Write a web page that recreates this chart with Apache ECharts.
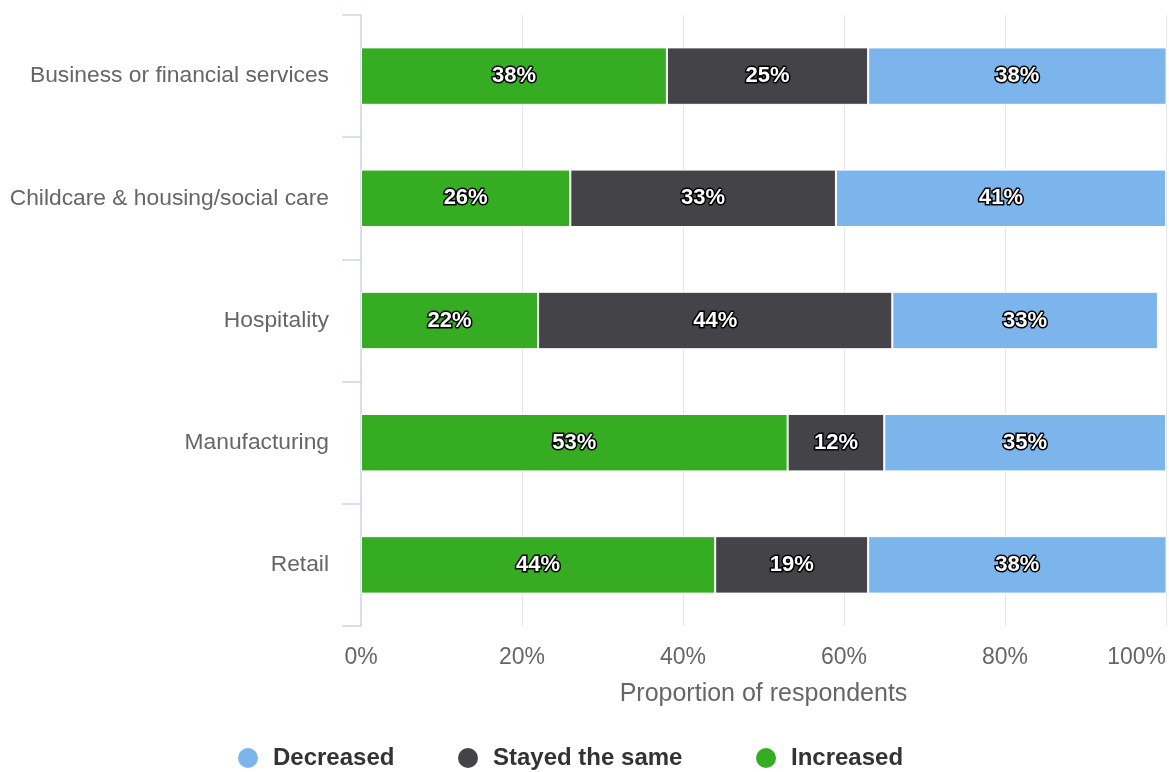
<!DOCTYPE html>
<html>
<head>
<meta charset="utf-8">
<style>
  html, body { margin: 0; padding: 0; background: #fff; }
  #chart { width: 1169px; height: 772px; }
</style>
<script src="https://cdn.jsdelivr.net/npm/echarts@6/dist/echarts.min.js"></script>
</head>
<body>
<div id="chart"></div>
<script>
// Sectors, top to bottom
const categories = [
  'Business or financial services',
  'Childcare & housing/social care',
  'Hospitality',
  'Manufacturing',
  'Retail'
];
// Share of respondents (%) per response
const increased = [38, 26, 22, 53, 44];
const stayedSame = [25, 33, 44, 12, 19];
const decreased = [38, 41, 33, 35, 38];
const xTicks = [0, 20, 40, 60, 80, 100];

const FONT = '"Liberation Sans", Arial, Helvetica, sans-serif';

const labelStyle = {
  show: true,
  position: 'inside',
  formatter: p => p.value + '%',
  color: '#fff',
  fontFamily: FONT,
  fontWeight: 'bold',
  fontSize: 22,
  textBorderColor: '#000',
  textBorderWidth: 3
};

function makeSeries(name, data, color) {
  return {
    name: name,
    type: 'bar',
    stack: 'total',
    data: data,
    barWidth: '47%',
    itemStyle: { color: color, borderColor: '#fff', borderWidth: 1 },
    label: labelStyle,
    emphasis: { disabled: true }
  };
}

// One legend entry per component so each can sit at its own spot
function legendItem(name, left) {
  return {
    data: [name],
    left: left,
    top: 746,
    padding: 0,
    icon: 'circle',
    itemWidth: 22,
    itemHeight: 22,
    selectedMode: false,
    textStyle: {
      color: '#333',
      fontFamily: FONT,
      fontWeight: 'bold',
      fontSize: 24,
      padding: [0, 0, 0, 9]
    }
  };
}

const chart = echarts.init(document.getElementById('chart'), null, { renderer: 'canvas' });
chart.setOption({
  animation: false,
  textStyle: { fontFamily: FONT },
  grid: { left: 361, right: 3, top: 15, bottom: 146, containLabel: false },
  legend: [
    legendItem('Decreased', 236),
    legendItem('Stayed the same', 456),
    legendItem('Increased', 754)
  ],
  xAxis: {
    type: 'value',
    min: xTicks[0],
    max: xTicks[xTicks.length - 1],
    interval: xTicks[1] - xTicks[0],
    name: 'Proportion of respondents',
    nameLocation: 'middle',
    nameGap: 56,
    nameTextStyle: { color: '#666', fontSize: 25, fontFamily: FONT },
    axisLine: { show: false },
    axisTick: { show: false },
    axisLabel: {
      color: '#666',
      fontSize: 23,
      fontFamily: FONT,
      margin: 20,
      alignMaxLabel: 'right',
      formatter: v => v + '%'
    },
    splitLine: { show: true, lineStyle: { color: '#e6e6e6', width: 1 } }
  },
  yAxis: {
    type: 'category',
    data: categories,
    inverse: true,
    axisLine: { show: true, lineStyle: { color: '#ccd6eb', width: 1.5 } },
    axisTick: { show: true, length: 19, lineStyle: { color: '#ccd6eb', width: 1.5 } },
    axisLabel: { color: '#666', fontSize: 22.8, fontFamily: FONT, margin: 32 },
    splitLine: { show: false }
  },
  series: [
    makeSeries('Increased', increased, '#35ac22'),
    makeSeries('Stayed the same', stayedSame, '#434348'),
    makeSeries('Decreased', decreased, '#7cb5ec')
  ]
});
</script>
</body>
</html>
